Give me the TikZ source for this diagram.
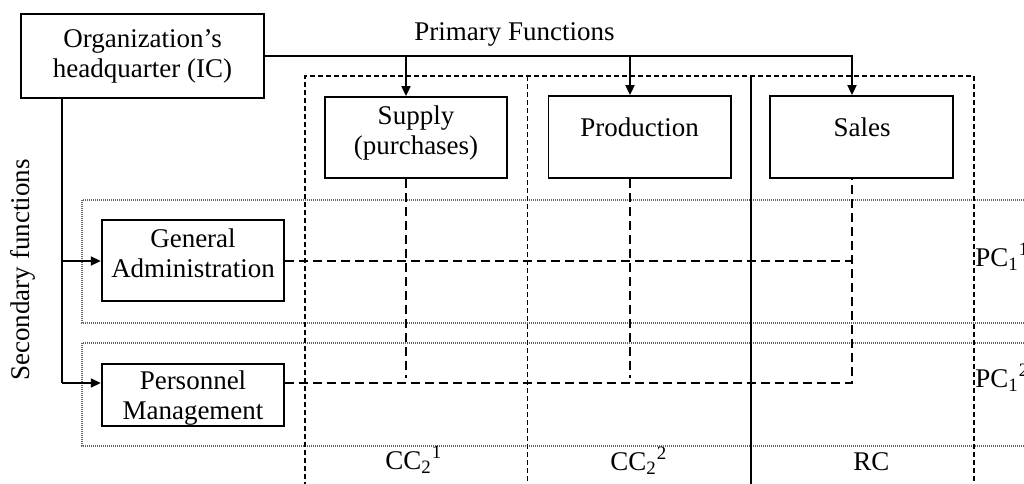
\documentclass[tikz,border=0pt]{standalone}
\usepackage{fontspec}
\setmainfont{Liberation Serif}
\usetikzlibrary{arrows.meta}
\begin{document}
\begin{tikzpicture}[x=0.5pt,y=-0.5pt,
  every node/.style={font=\fontsize{13.5}{15}\selectfont},
  box/.style={draw,line width=0.9pt,fill=white,inner sep=0pt},
  txt/.style={inner sep=0pt,align=center},
  lbl/.style={inner sep=0pt,anchor=base west},
  link/.style={line width=0.9pt},
  arr/.style={link,-{Triangle[length=5pt,width=4.5pt]}},
  conn/.style={line width=0.9pt,dash pattern=on 4.5pt off 2.5pt},
  frame/.style={line width=0.7pt,dash pattern=on 2.5pt off 1.5pt},
  band/.style={line width=0.6pt,black!60,dash pattern=on 0.5pt off 0.5pt}]
\useasboundingbox (0,0) rectangle (1024,483);
\clip (0,0) rectangle (1024,483);

% horizontal bands of the secondary functions
\draw[band] (1040,200) -- (82,200) -- (82,323) -- (1040,323);
\draw[band] (1040,343) -- (82,343) -- (82,446) -- (1040,446);

% columns of the primary functions
\draw[frame] (305,495) -- (305,76) -- (974,76) -- (974,495);
\draw[frame] (527.5,76) -- (527.5,495);
\draw[link] (751,76) -- (751,495);

% boxes
\node[box,minimum width=121.5pt,minimum height=42pt,align=center] (hq) at (142.5,56)
  {Organization's\\headquarter (IC)};
\node[box,minimum width=91pt,minimum height=40.5pt] (supply) at (416,137.5) {};
\node[box,minimum width=91.3pt,minimum height=41pt] (prod) at (639.7,137) {};
\node[box,minimum width=91.3pt,minimum height=41pt] (sales) at (861.6,137) {};
\node[box,minimum width=91.3pt,minimum height=40.5pt] (ga) at (193,260.5) {};
\node[box,minimum width=91.3pt,minimum height=31pt] (pm) at (193,394.7) {};

\node[txt] (supplyT) at (416,133) {Supply\\(purchases)};
\node[txt,anchor=base] (prodT) at (639.7,136.7) {Production};
\node[txt,anchor=base] (salesT) at (862,136.7) {Sales};
\node[txt] (gaT) at (193,253) {General\\Administration};
\node[txt] (pmT) at (193,398) {Personnel\\Management};

% headings and cost-centre labels
\node[lbl] (primary) at (414,40) {Primary Functions};
\node[inner sep=0pt,rotate=90] (secondary) at (22.5,270) {Secondary functions};
\node[lbl] (cc1) at (385,469) {CC\textsubscript{2}\textsuperscript{1}};
\node[lbl] (cc2) at (610,470) {CC\textsubscript{2}\textsuperscript{2}};
\node[lbl] (rc) at (853,470) {RC};
\node[lbl] (pc1) at (975,266) {PC\textsubscript{1}\textsuperscript{1}};
\node[lbl] (pc2) at (975,387) {PC\textsubscript{1}\textsuperscript{2}};

% connector anchors
\coordinate (col1) at (406,56);
\coordinate (col2) at (630,56);
\coordinate (col3) at (852,56);
\coordinate (trunk) at (62,0);
\coordinate (rowA) at (0,261);
\coordinate (rowB) at (0,383);
\coordinate (end1) at (406,378);
\coordinate (end2) at (630,378);

% primary flow from the headquarter
\draw[arr] (hq.east) -| (col3 |- sales.north);
\draw[arr] (col1) -- (col1 |- supply.north);
\draw[arr] (col2) -- (col2 |- prod.north);

% secondary flow from the headquarter
\draw[link] (trunk |- hq.south) -- (trunk |- rowB);
\draw[arr] (trunk |- rowA) -- (ga.west |- rowA);
\draw[arr] (trunk |- rowB) -- (pm.west |- rowB);

% dashed links between functions
\draw[conn] (ga.east |- rowA) -- (col3 |- rowA);
\draw[conn] (pm.east |- rowB) -| (col3 |- sales.south);
\draw[conn] (col1 |- supply.south) -- (end1);
\draw[conn] (col2 |- prod.south) -- (end2);
\end{tikzpicture}
\end{document}
